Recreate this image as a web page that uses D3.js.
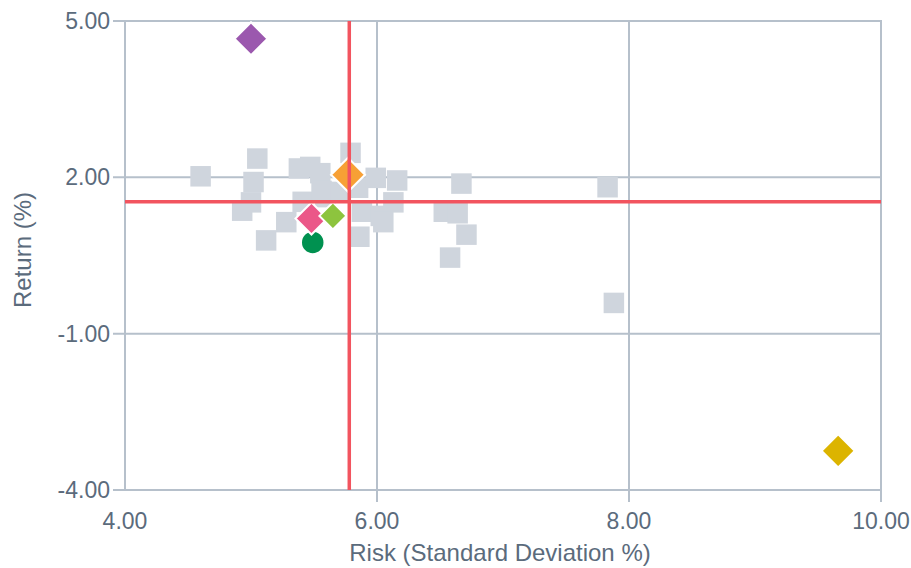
<!DOCTYPE html>
<html>
<head>
<meta charset="utf-8">
<script src="https://cdn.jsdelivr.net/npm/d3@7"></script>
<style>
  html, body { margin: 0; padding: 0; background: #ffffff; }
  svg { display: block; }
  text { font-family: "Liberation Sans", Arial, Helvetica, sans-serif; fill: #5b6b7c; }
</style>
</head>
<body>
<svg id="chart" width="911" height="568"></svg>
<script>
// ---- data ----
const xTicks = [4, 6, 8, 10];
const yTicks = [5, 2, -1, -4];
const xTitle = "Risk (Standard Deviation %)";
const yTitle = "Return (%)";

// peer universe (grey squares): risk, return
const peerRisk = [4.60, 5.05, 5.02, 5.00, 4.93, 5.28, 5.12, 5.38, 5.47, 5.55, 5.41, 5.59, 5.56,
                  5.79, 5.71, 5.85, 5.88, 5.86, 5.99, 6.16, 6.13, 6.03, 6.05, 6.67, 6.53, 6.64,
                  6.71, 6.58, 7.83, 7.88];
const peerReturn = [2.02, 2.36, 1.91, 1.52, 1.36, 1.14, 0.79, 2.17, 2.20, 2.08, 1.53, 1.62, 1.74,
                    2.47, 1.72, 1.80, 1.34, 0.86, 1.99, 1.94, 1.52, 1.26, 1.14, 1.88, 1.34, 1.31,
                    0.90, 0.46, 1.81, -0.41];

// highlighted funds
const hlRisk   = [5.00, 5.77, 9.66, 5.48, 5.65];
const hlReturn = [4.66, 2.05, -3.25, 1.21, 1.26];
const hlColor  = ["#9b58ae", "#f7a035", "#dcb400", "#eb5788", "#8dc43e"];
const hlSize   = [16.5, 17, 16.5, 16, 13.5];

// benchmark (circle)
const benchRisk = [5.49];
const benchReturn = [0.75];

// average lines
const avgRisk = [5.78];
const avgReturn = [1.53];

// ---- drawing ----
const svg = d3.select("#chart");
const x = d3.scaleLinear().domain([4, 10]).range([125, 881]);
const y = d3.scaleLinear().domain([-4, 5]).range([490, 21]);
const gridColor = "#b6c0cb";
const fmt = d => d.toFixed(2);

// horizontal gridlines + y ticks
svg.append("g").selectAll("line").data(yTicks).join("line")
  .attr("x1", x(4) - 12).attr("x2", x(10))
  .attr("y1", d => y(d)).attr("y2", d => y(d))
  .attr("stroke", gridColor).attr("stroke-width", 2);

// vertical gridlines + x ticks
svg.append("g").selectAll("line").data(xTicks).join("line")
  .attr("x1", d => x(d)).attr("x2", d => x(d))
  .attr("y1", y(5) - 1).attr("y2", d => d === 4 ? y(-4) : y(-4) + 12)
  .attr("stroke", gridColor).attr("stroke-width", 2);

// tick labels
svg.append("g").selectAll("text").data(yTicks).join("text")
  .attr("x", 110).attr("y", d => y(d) + 8)
  .attr("text-anchor", "end").attr("font-size", 23)
  .text(fmt);

svg.append("g").selectAll("text").data(xTicks).join("text")
  .attr("x", d => x(d)).attr("y", 529)
  .attr("text-anchor", "middle").attr("font-size", 23)
  .text(fmt);

// axis titles
svg.append("text").attr("x", 500).attr("y", 561)
  .attr("text-anchor", "middle").attr("font-size", 24).text(xTitle);
svg.append("text").attr("transform", "translate(31,250) rotate(-90)")
  .attr("text-anchor", "middle").attr("font-size", 24).text(yTitle);

// peer squares
const sq = 20.5;
svg.append("g").selectAll("rect").data(peerRisk).join("rect")
  .attr("x", (d, i) => x(d) - sq / 2)
  .attr("y", (d, i) => y(peerReturn[i]) - sq / 2)
  .attr("width", sq).attr("height", sq)
  .attr("fill", "#cfd5dd");

// benchmark circle
svg.append("g").selectAll("circle").data(benchRisk).join("circle")
  .attr("cx", d => x(d)).attr("cy", (d, i) => y(benchReturn[i]))
  .attr("r", 11.5).attr("fill", "#009150")
  .attr("stroke", "#ffffff").attr("stroke-width", 1.5);

// highlighted diamonds
svg.append("g").selectAll("path").data(hlRisk).join("path")
  .attr("d", (d, i) => {
    const cx = x(d), cy = y(hlReturn[i]), r = hlSize[i];
    return `M${cx},${cy - r}L${cx + r},${cy}L${cx},${cy + r}L${cx - r},${cy}Z`;
  })
  .attr("fill", (d, i) => hlColor[i])
  .attr("stroke", "#ffffff").attr("stroke-width", 2);

// average lines
svg.append("g").selectAll("line").data(avgReturn).join("line")
  .attr("x1", x(4)).attr("x2", x(10))
  .attr("y1", d => y(d)).attr("y2", d => y(d))
  .attr("stroke", "#f2545f").attr("stroke-width", 3.5);
svg.append("g").selectAll("line").data(avgRisk).join("line")
  .attr("x1", d => x(d)).attr("x2", d => x(d))
  .attr("y1", y(5)).attr("y2", y(-4))
  .attr("stroke", "#f2545f").attr("stroke-width", 3.5);
</script>
</body>
</html>
